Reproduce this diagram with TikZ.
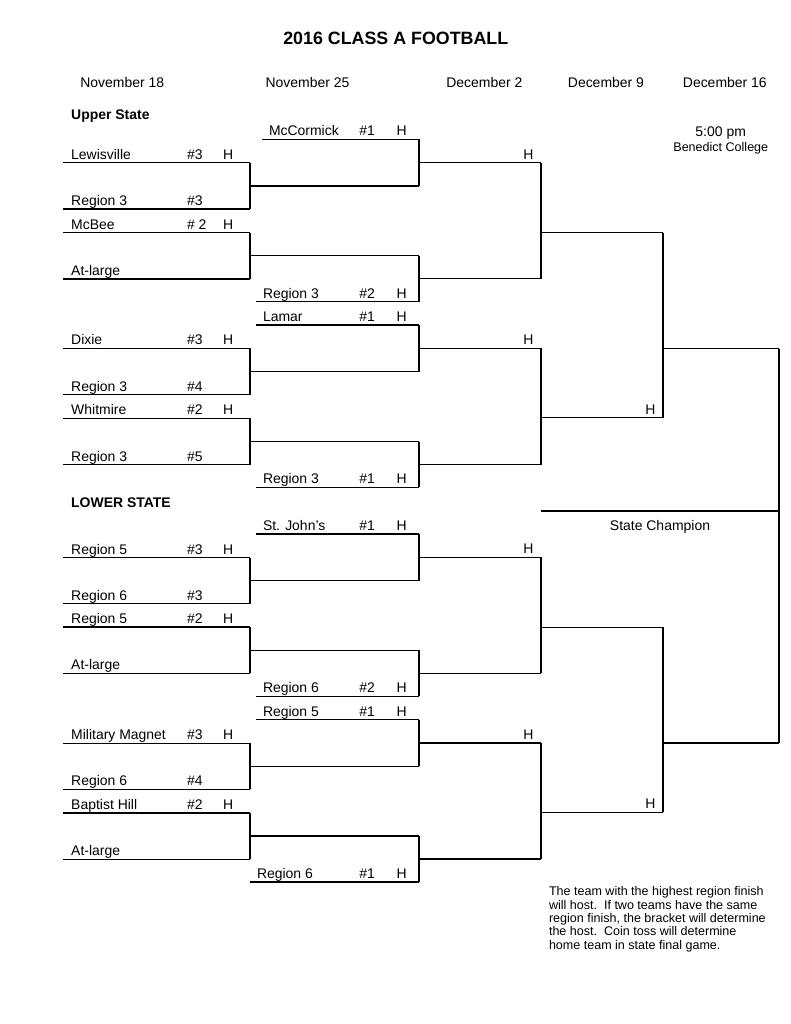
\documentclass[tikz,border=0pt]{standalone}
\usepackage{fontspec}
\setmainfont{Liberation Sans}
\begin{document}
\begin{tikzpicture}[
      x=0.7737pt, y=-0.7737pt,
      line width=0.8pt,
      txt/.style={anchor=base west, inner sep=0pt, font=\fontsize{10.8}{13}\selectfont},
      ctr/.style={anchor=base, inner sep=0pt, font=\fontsize{10.8}{13}\selectfont},
      hdr/.style={txt, font=\bfseries\fontsize{10.8}{13}\selectfont},
      ttl/.style={ctr, font=\bfseries\fontsize{13.8}{16}\selectfont},
      note/.style={anchor=base west, inner sep=0pt, font=\fontsize{9.7}{10.5}\selectfont}
    ]
      \useasboundingbox (0,0) rectangle (791,1024);

      % first round slot: name, y, team, seed, host
      \def\first#1#2#3#4#5{%
        \draw (63,#2) coordinate (#1l) -- (250,#2) coordinate (#1r);
        \node[txt] (#1t) at (70.7,#2-3.5) {#3};
        \node[txt] (#1s) at (186.5,#2-3.5) {#4};
        \node[txt] (#1h) at (222.5,#2-3.5) {#5};
      }
      % second round slot: name, x start, y, team, seed
      \def\second#1#2#3#4#5{%
        \draw (#2,#3) coordinate (#1l) -- (419,#3) coordinate (#1r);
        \node[txt] (#1t) at (#2+6.5,#3-3.5) {#4};
        \node[txt] (#1s) at (358.8,#3-3.5) {#5};
        \node[txt] (#1h) at (396,#3-3.5) {H};
      }
      % later slot: name, x start, x end, y, host
      \def\later#1#2#3#4#5{%
        \draw (#2,#4) coordinate (#1l) -- (#3,#4) coordinate (#1r);
        \node[ctr] (#1h) at (#3-12.5,#4-3.5) {#5};
      }

      % Titles
      \node[ttl] (title) at (395.8,44) {2016 CLASS A FOOTBALL};
      \node[txt] (day1) at (79.8,87) {November 18};
      \node[txt] (day2) at (265.1,87) {November 25};
      \node[txt] (day3) at (445.8,87) {December 2};
      \node[txt] (day4) at (567.4,87) {December 9};
      \node[txt] (day5) at (682.4,87) {December 16};
      \node[hdr] (upper) at (70.7,119) {Upper State};
      \node[hdr] (lower) at (70.7,507) {LOWER STATE};
      \node[ctr] (time) at (720.7,136) {5:00 pm};
      \node[ctr, font=\fontsize{9.7}{11}\selectfont] (site) at (720.8,151.3) {Benedict College};

      % Round 1
      \first{a1}{162.7}{Lewisville}{\#3}{H}
      \first{a2}{209}{Region 3}{\#3}{}
      \first{a3}{232.7}{McBee}{\# 2}{H}
      \first{a4}{279}{At-large}{}{}
      \first{a5}{348.4}{Dixie}{\#3}{H}
      \first{a6}{394.7}{Region 3}{\#4}{}
      \first{a7}{418.4}{Whitmire}{\#2}{H}
      \first{a8}{464.7}{Region 3}{\#5}{}
      \first{a9}{557.5}{Region 5}{\#3}{H}
      \first{a10}{603.8}{Region 6}{\#3}{}
      \first{a11}{627}{Region 5}{\#2}{H}
      \first{a12}{673.3}{At-large}{}{}
      \first{a13}{743.2}{Military Magnet}{\#3}{H}
      \first{a14}{789.4}{Region 6}{\#4}{}
      \first{a15}{813}{Baptist Hill}{\#2}{H}
      \first{a16}{859.2}{At-large}{}{}
      \draw (a1r) -- (a2r);
      \draw (a3r) -- (a4r);
      \draw (a5r) -- (a6r);
      \draw (a7r) -- (a8r);
      \draw (a9r) -- (a10r);
      \draw (a11r) -- (a12r);
      \draw (a13r) -- (a14r);
      \draw (a15r) -- (a16r);

      % Round 2
      \second{b1}{262}{139.3}{McCormick}{\#1}
      \draw (250,186) coordinate (w1l) -- (419,186) coordinate (w1r);
      \draw (250,255.8) coordinate (w2l) -- (419,255.8) coordinate (w2r);
      \second{b2}{256}{301.7}{Region 3}{\#2}
      \second{b3}{256}{325}{Lamar}{\#1}
      \draw (250,371.7) coordinate (w3l) -- (419,371.7) coordinate (w3r);
      \draw (250,441.5) coordinate (w4l) -- (419,441.5) coordinate (w4r);
      \second{b4}{256}{487.4}{Region 3}{\#1}
      \second{b5}{256}{534}{St. John’s}{\#1}
      \draw (250,580.5) coordinate (w5l) -- (419,580.5) coordinate (w5r);
      \draw (250,650.2) coordinate (w6l) -- (419,650.2) coordinate (w6r);
      \second{b6}{256}{696.4}{Region 6}{\#2}
      \second{b7}{256}{719.7}{Region 5}{\#1}
      \draw (250,766.2) coordinate (w7l) -- (419,766.2) coordinate (w7r);
      \draw (250,836) coordinate (w8l) -- (419,836) coordinate (w8r);
      \second{b8}{250}{882}{Region 6}{\#1}
      \draw (b1r) -- (w1r);
      \draw (w2r) -- (b2r);
      \draw (b3r) -- (w3r);
      \draw (w4r) -- (b4r);
      \draw (b5r) -- (w5r);
      \draw (w6r) -- (b6r);
      \draw (b7r) -- (w7r);
      \draw (w8r) -- (b8r);

      % Round 3
      \later{c1}{419}{541}{162.7}{H}
      \later{c2}{419}{541}{278.7}{}
      \later{c3}{419}{541}{348.4}{H}
      \later{c4}{419}{541}{464.5}{}
      \later{c5}{419}{541}{557.3}{H}
      \later{c6}{419}{541}{673.3}{}
      \later{c7}{419}{541}{743}{H}
      \later{c8}{419}{541}{859}{}
      \draw (c1r) -- (c2r);
      \draw (c3r) -- (c4r);
      \draw (c5r) -- (c6r);
      \draw (c7r) -- (c8r);

      % Round 4
      \later{d1}{541}{663}{232.7}{}
      \later{d2}{541}{663}{417.7}{H}
      \later{d3}{541}{663}{627.3}{}
      \later{d4}{541}{663}{812.3}{H}
      \draw (d1r) -- (d2r);
      \draw (d3r) -- (d4r);

      % Final
      \later{e1}{663}{779}{348.7}{}
      \later{e2}{663}{779}{743}{}
      \draw (e1r) -- (e2r);
      \draw (541,511) coordinate (champl) -- (779,511) coordinate (champr);
      \node[ctr] (champ) at (660,530.5) {State Champion};

      % Note
      \node[note] (note1) at (548.5,895.5) {The team with the highest region finish};
      \node[note] (note2) at (548.5,909) {will host.\ \ If two teams have the same};
      \node[note] (note3) at (548.5,922.3) {region finish, the bracket will determine};
      \node[note] (note4) at (548.5,935.8) {the host.\ \ Coin toss will determine};
      \node[note] (note5) at (548.5,949.5) {home team in state final game.};
    \end{tikzpicture}
\end{document}
